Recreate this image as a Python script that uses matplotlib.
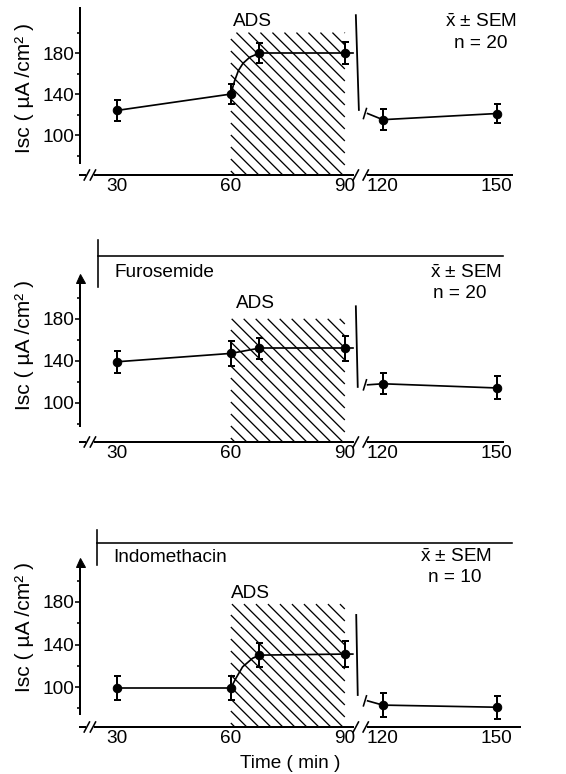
import numpy as np
import matplotlib
matplotlib.use("Agg")
import matplotlib.pyplot as plt
from matplotlib.lines import Line2D
from matplotlib.collections import LineCollection

plt.rcParams["font.family"] = ["Liberation Sans", "DejaVu Sans"]
plt.rcParams["mathtext.fontset"] = "custom"
plt.rcParams["mathtext.rm"] = "Liberation Sans"

# data
times = [30, 60, 67.5, 90, 120, 150]
tick_times = [30, 60, 90, 120, 150]

isc_ctrl = [124, 140, 180, 180, 115, 121]
sem_ctrl = [10, 10, 10, 11, 10, 9]
isc_furo = [139, 147, 152, 152, 118, 114]
sem_furo = [10.5, 12, 10, 12, 10, 11]
isc_indo = [99, 99, 130, 131, 83, 81]
sem_indo = [11, 11, 11, 12, 11, 11]

# drawn ADS rise between 60 and 67.5 min
rise_t_ctrl = [60, 61, 62, 63.2, 65, 67.5]
rise_ctrl = [140, 153, 163, 170, 176, 180]
rise_t_furo = [60, 67.5]
rise_furo = [147, 152]
rise_t_indo = [60, 61.3, 63.1, 65.7, 67.5]
rise_indo = [99, 108, 119, 127, 130]

# level where the line resumes after the break
rejoin = [121, 117, 87]
ads_span = [60, 90]
ads_top = [200, 180, 178]
n_vals = [20, 20, 10]
drugs = [None, "Furosemide", "Indomethacin"]

W, H, DPI = 566, 774, 72
FS = 19
HATCH_STEP = 12  # px between hatch lines


def fwd(t):
    t = np.asarray(t, dtype=float)
    return np.where(t <= 90, t, np.where(t >= 120, t - 20, 90 + (t - 90) / 3))


def inv(f):
    f = np.asarray(f, dtype=float)
    return np.where(f <= 90, f, np.where(f >= 100, f + 20, 90 + (f - 90) * 3))


fig = plt.figure(figsize=(W / DPI, H / DPI), dpi=DPI)


def ftxt(x, y, s, **kw):
    kw.setdefault("ha", "center")
    kw.setdefault("va", "center")
    kw.setdefault("fontsize", FS)
    fig.text(x / W, 1 - y / H, s, **kw)


def fline(xs, ys, lw=1.6):
    fig.add_artist(Line2D([x / W for x in xs], [1 - y / H for y in ys],
                          color="k", lw=lw))


def hatch_box(ax, x0, x1, y0, y1):
    # "\" hatching inside the box, lines cut to the box edges
    (px0, py0), (px1, py1) = ax.transData.transform([(x0, y0), (x1, y1)])
    h = py1 - py0
    segs = []
    a = px0 - h + 4
    while a < px1:
        s0 = max(0.0, px0 - a)
        s1 = min(h, px1 - a)
        if s1 > s0:
            segs.append([(a + s0, py1 - s0), (a + s1, py1 - s1)])
        a += HATCH_STEP
    lc = LineCollection(segs, colors="k", linewidths=1.3, transform=None)
    ax.add_collection(lc, autolim=False)


# layout (pixels): box top/bottom, ylim, spine bounds, etc.
layout = [
    dict(box=(8, 175), ylim=(61, 224), spine=(73, 224), arrow=False,
         ads=(252, 21), sem=(481, 22), n=(481, 43), xend=134,
         vl_f=(92.9, 93.7), vl_v=(217, 124.5), ylab=88),
    dict(box=(278, 442), ylim=(62.4, 219), spine=(78, 219), arrow=True,
         ads=(255, 303), sem=(466, 273), n=(460, 293), xend=131.6,
         vl_f=(92.9, 93.4), vl_v=(192, 115), ylab=345,
         bar_y=256, bar_x=(98, 503), bar_v=(240, 287), drug=(115, 273)),
    dict(box=(562, 727), ylim=(62.4, 217.6), spine=(75, 217.6), arrow=True,
         ads=(250, 593), sem=(456, 557), n=(455, 577), xend=136,
         vl_f=(93.0, 93.4), vl_v=(167.8, 92.5), ylab=627,
         bar_y=543, bar_x=(97, 512), bar_v=(530, 565), drug=(113, 558)),
]

series = [(isc_ctrl, sem_ctrl, rise_t_ctrl, rise_ctrl),
          (isc_furo, sem_furo, rise_t_furo, rise_furo),
          (isc_indo, sem_indo, rise_t_indo, rise_indo)]

left, right = 80, 512
for i, (lay, (isc, sem, rt, rv)) in enumerate(zip(layout, series)):
    top, bot = lay["box"]
    ax = fig.add_axes([left / W, 1 - bot / H, (right - left) / W, (bot - top) / H])
    ax.set_xscale("function", functions=(fwd, inv))
    ax.set_xlim(20.3, 154)
    ax.set_ylim(*lay["ylim"])
    y0 = lay["ylim"][0]

    for s in ["top", "right", "bottom"]:
        ax.spines[s].set_visible(False)
    ax.spines["left"].set_linewidth(2)
    ax.spines["left"].set_bounds(*lay["spine"])
    ax.set_yticks([100, 140, 180])
    ax.set_yticks([80, 120, 160, 200], minor=True)
    ax.tick_params(axis="y", which="major", length=5, width=1.6, labelsize=FS, pad=1)
    ax.tick_params(axis="y", which="minor", length=3, width=1.6)
    ax.set_xticks(tick_times)
    ax.set_xticklabels([str(t) for t in tick_times])
    ax.xaxis.set_minor_locator(matplotlib.ticker.NullLocator())
    ax.tick_params(axis="x", length=0, labelsize=FS, pad=3)
    if lay["arrow"]:
        ax.plot([0], [lay["spine"][1]], marker="^", ms=9, color="k",
                transform=ax.get_yaxis_transform(), clip_on=False)

    # ADS hatch
    hatch_box(ax, ads_span[0], ads_span[1], y0, ads_top[i])

    # x axis with breaks
    xt = ax.get_xaxis_transform()
    kw = dict(color="k", lw=2, transform=xt, clip_on=False)
    ax.plot(inv([20.3, 21.6]), [0, 0], **kw)
    ax.plot(inv([24.2, 92.1]), [0, 0], **kw)
    ax.plot(inv([96.0, lay["xend"]]), [0, 0], **kw)
    dyf = 5 / (bot - top)
    for f in [22.1, 23.7, 92.9, 95.5]:
        ax.plot(inv([f - 0.7, f + 0.7]), [-dyf, dyf], color="k", lw=1.6,
                transform=xt, clip_on=False)

    # lines
    lk = dict(color="k", lw=1.7)
    ax.plot(times[:2], isc[:2], **lk)
    ax.plot(rt, rv, **lk)
    ax.plot([times[2], times[3], float(inv(92.1))], [isc[2], isc[3], isc[3]], **lk)
    ax.plot([float(inv(96.0))] + times[4:], [rejoin[i]] + isc[4:], **lk)
    ax.plot(inv(list(lay["vl_f"])), list(lay["vl_v"]), color="k", lw=1.8)
    # slash at resume point
    ppu = (bot - top) / (lay["ylim"][1] - y0)
    ax.plot(inv([94.9, 95.7]), [rejoin[i] - 5 / ppu, rejoin[i] + 5 / ppu],
            color="k", lw=1.6)

    ax.errorbar(times, isc, yerr=sem, fmt="o", color="k", ms=8.5,
                capsize=3.5, elinewidth=2, capthick=2)

    ftxt(*lay["ads"], "ADS")
    ftxt(*lay["sem"], r"$\bar{\mathrm{x}}$ ± SEM")
    ftxt(*lay["n"], f"n = {n_vals[i]}")
    ftxt(25, lay["ylab"], "Isc ( µA /cm² )", rotation=90, fontsize=21)
    if drugs[i]:
        fline(lay["bar_x"], [lay["bar_y"]] * 2)
        fline([lay["bar_x"][0]] * 2, lay["bar_v"])
        ftxt(*lay["drug"], drugs[i], ha="left")

ftxt(290, 764, "Time ( min )")

fig.savefig("out.png", dpi=DPI)
